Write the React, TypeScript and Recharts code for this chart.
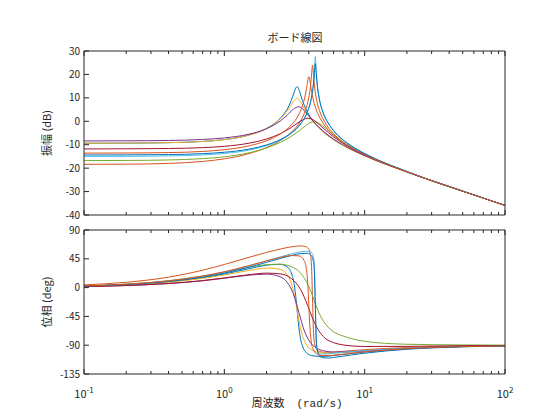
import { LineChart, Line, XAxis, YAxis } from "recharts";

const FONT = '"Noto Sans CJK JP", "Noto Sans", sans-serif';
const MONO = '"Liberation Mono", "DejaVu Sans Mono", monospace';
const INK = "#262626";

// tick positions
const decadeTicks = [0.1, 1, 10, 100];
const allXTicks = [0.1, 0.2, 0.3, 0.4, 0.5, 0.6, 0.7, 0.8, 0.9, 1, 2, 3, 4, 5, 6, 7, 8, 9, 10, 20, 30, 40, 50, 60, 70, 80, 90, 100];
const magTicks = [-40, -30, -20, -10, 0, 10, 20, 30];
const phaseTicks = [-135, -90, -45, 0, 45, 90];

// series 1 (blue)
const blueAW = [0.1, 0.2, 0.4, 0.7, 1, 1.5, 2, 2.5, 2.8, 3.0, 3.15, 3.25, 3.3, 3.35, 3.45, 3.6, 3.8, 4.2, 5, 6, 8, 10, 20, 50, 100];
const blueAMag = [-9.37, -9.32, -9.13, -8.61, -7.81, -5.87, -3.03, 1.23, 5.15, 8.91, 12.5, 14.48, 14.77, 14.41, 12.41, 8.97, 5.44, 0.9, -4.16, -7.79, -12.03, -14.71, -21.64, -29.85, -35.91];
const blueAPhase = [2.3, 4.6, 9.1, 15.5, 21.3, 29.5, 35.0, 36.4, 32.4, 22.9, 4.5, -19.6, -35, -50.2, -73.3, -90.9, -100.4, -106.3, -107.6, -106.1, -103.0, -100.7, -95.6, -92.2, -91.1];

// series 2 (orange)
const orangeAW = [0.1, 0.2, 0.4, 0.7, 1, 1.5, 2, 2.5, 3, 3.5, 3.8, 4.0, 4.1, 4.18, 4.25, 4.32, 4.4, 4.55, 4.8, 5.2, 6, 8, 10, 20, 50, 100];
const orangeAMag = [-18.35, -18.31, -17.98, -17.15, -16.03, -13.79, -11.22, -8.29, -4.72, 0.26, 4.97, 10.12, 14.34, 19.57, 23.98, 19.64, 14.55, 9.03, 4.05, -0.39, -5.22, -10.99, -14.11, -21.52, -29.84, -35.9];
const orangeAPhase = [4.2, 8.3, 16.3, 27.1, 36.1, 47.3, 55.0, 60.2, 63.7, 65.1, 64.0, 59.7, 52.5, 35.0, -17.7, -70.0, -87.3, -96.2, -99.9, -101.1, -100.7, -98.5, -97.0, -93.6, -91.4, -90.7];

// series 3 (yellow)
const yellowW = [0.1, 0.2, 0.4, 0.7, 1, 1.5, 2, 2.5, 2.8, 3.0, 3.15, 3.3, 3.45, 3.6, 3.8, 4.2, 5, 6, 8, 10, 20, 50, 100];
const yellowMag = [-9.37, -9.32, -9.13, -8.62, -7.82, -5.9, -3.13, 0.91, 4.33, 7.08, 9.0, 9.77, 8.81, 6.93, 4.39, 0.48, -4.3, -7.86, -12.05, -14.72, -21.65, -29.85, -35.91];
const yellowPhase = [2.1, 4.3, 8.5, 14.4, 19.7, 26.7, 30.5, 28.5, 20.3, 7.2, -10.4, -35.0, -58.7, -74.9, -87.1, -97.3, -102.2, -102.4, -100.6, -98.9, -94.7, -91.9, -91.0];

// series 4 (purple)
const purpleW = [0.1, 0.2, 0.4, 0.7, 1, 1.5, 2, 2.5, 2.8, 3.1, 3.4, 3.7, 4, 4.5, 5, 6, 8, 10, 20, 50, 100];
const purpleMag = [-8.38, -8.34, -8.18, -7.76, -7.1, -5.49, -3.16, 0.1, 2.58, 5.11, 6.22, 4.7, 2.25, -1.3, -3.93, -7.55, -11.86, -14.59, -21.62, -29.85, -35.91];
const purplePhase = [1.6, 3.2, 6.3, 10.6, 14.6, 19.4, 21.1, 16.9, 8.4, -9.6, -39.0, -66.4, -82.3, -93.9, -98.3, -100.7, -100.3, -98.9, -94.8, -92.0, -91.0];

// series 5 (green)
const greenW = [0.1, 0.2, 0.4, 0.7, 1, 1.5, 2, 2.5, 3, 3.5, 4, 4.3, 4.6, 5, 5.5, 6, 7, 8, 10, 20, 50, 100];
const greenMag = [-16.78, -16.72, -16.51, -15.94, -15.15, -13.44, -11.38, -9.05, -6.42, -3.54, -0.96, -0.23, -0.46, -1.82, -3.96, -5.89, -8.88, -11.07, -14.12, -21.52, -29.84, -35.9];
const greenPhase = [2.7, 5.5, 10.8, 18.1, 24.2, 31.8, 35.9, 36.5, 32.7, 22.5, 1.9, -15.5, -33.3, -50.0, -62.0, -69.0, -75.5, -79.5, -84.0, -88.5, -89.6, -89.9];

// series 6 (light blue)
const cyanW = [0.1, 0.2, 0.4, 0.7, 1, 1.5, 2, 2.5, 3, 3.5, 3.9, 4.15, 4.3, 4.38, 4.45, 4.52, 4.6, 4.75, 5, 5.5, 6, 8, 10, 20, 50, 100];
const cyanMag = [-14.99, -14.96, -14.79, -14.37, -13.74, -12.3, -10.43, -8.11, -5.18, -1.16, 3.84, 9.23, 15.15, 21.02, 27.66, 21.07, 15.31, 9.57, 4.49, -0.86, -4.0, -10.45, -13.79, -21.45, -29.82, -35.9];
const cyanPhase = [2.6, 5.2, 10.2, 17.5, 24.2, 33.9, 41.8, 47.9, 52.6, 55.9, 57.0, 55.3, 49.3, 35.7, -26.3, -87.9, -99.0, -103.0, -104.0, -103.5, -102.5, -100.0, -98.5, -95.0, -92.0, -91.0];

// series 7 (dark red)
const redW = [0.1, 0.2, 0.4, 0.7, 1, 1.5, 2, 2.5, 3, 3.5, 3.9, 4.3, 4.7, 5.2, 6, 7, 8, 10, 20, 50, 100];
const redMag = [-11.79, -11.75, -11.62, -11.25, -10.68, -9.35, -7.56, -5.32, -2.64, 0.11, 1.29, 0.6, -1.19, -3.54, -6.59, -9.34, -11.37, -14.29, -21.55, -29.84, -35.9];
const redPhase = [1.6, 3.3, 6.5, 11.0, 15.1, 20.2, 22.6, 21.4, 14.3, -3.2, -26.4, -50.3, -67.0, -78.6, -86.0, -89.5, -91.0, -92.0, -91.8, -90.8, -90.4];

// series 8 (blue again)
const blueBW = [0.1, 0.2, 0.4, 0.7, 1, 1.5, 2, 2.5, 3, 3.5, 3.9, 4.15, 4.3, 4.38, 4.45, 4.52, 4.6, 4.75, 5, 5.5, 6, 8, 10, 20, 50, 100];
const blueBMag = [-14.38, -14.35, -14.2, -13.81, -13.22, -11.88, -10.08, -7.83, -4.96, -0.98, 3.98, 9.3, 15.03, 20.23, 24.58, 20.25, 15.16, 9.61, 4.57, -0.77, -3.93, -10.41, -13.76, -21.44, -29.82, -35.9];
const blueBPhase = [2.4, 4.8, 9.5, 16.3, 22.6, 31.9, 39.5, 45.5, 50.1, 53.2, 53.6, 50.6, 41.9, 24.6, -27.9, -80.0, -97.3, -106.0, -109.4, -110.0, -109.2, -105.3, -102.5, -96.4, -92.6, -91.3];

// series 9 (orange again)
const orangeBW = [0.1, 0.2, 0.4, 0.7, 1, 1.5, 2, 2.5, 3, 3.4, 3.7, 3.85, 3.93, 4.0, 4.07, 4.15, 4.3, 4.6, 5, 6, 8, 10, 20, 50, 100];
const orangeBMag = [-13.59, -13.54, -13.36, -12.87, -12.14, -10.48, -8.28, -5.45, -1.59, 3.05, 8.94, 13.91, 17.32, 19.01, 17.3, 14.0, 9.25, 3.76, -0.38, -5.9, -11.2, -14.22, -21.54, -29.84, -35.9];
const orangeBPhase = [2.7, 5.3, 10.5, 18.0, 24.8, 34.4, 41.8, 47.1, 50.1, 49.6, 42.5, 28.0, 6.9, -27.6, -61.6, -82.2, -96.6, -104.2, -106.3, -105.7, -102.7, -100.4, -95.4, -92.2, -91.1];

const build = (w: number[], m: number[], p: number[]) => w.map((x, i) => ({ w: x, m: m[i], p: p[i] }));

const series = [
  { id: "s1", color: "#0072BD", data: build(blueAW, blueAMag, blueAPhase) },
  { id: "s2", color: "#D95319", data: build(orangeAW, orangeAMag, orangeAPhase) },
  { id: "s3", color: "#EDB120", data: build(yellowW, yellowMag, yellowPhase) },
  { id: "s4", color: "#7E2F8E", data: build(purpleW, purpleMag, purplePhase) },
  { id: "s5", color: "#77AC30", data: build(greenW, greenMag, greenPhase) },
  { id: "s6", color: "#4DBEEE", data: build(cyanW, cyanMag, cyanPhase) },
  { id: "s7", color: "#A2142F", data: build(redW, redMag, redPhase) },
  { id: "s8", color: "#0072BD", data: build(blueBW, blueBMag, blueBPhase) },
  { id: "s9", color: "#D95319", data: build(orangeBW, orangeBMag, orangeBPhase) },
];

const tickStyle = { fill: INK, fontSize: 10, fontFamily: FONT };

const isDecade = (v: number) => decadeTicks.some((d) => Math.abs(d - v) < 1e-9);

// log-axis tick: draws its own inward mark (long for decades, short otherwise) and an optional 10^n label
function LogTick(props: any) {
  const { x, y, payload, side, showLabel } = props;
  const major = isDecade(payload.value);
  const len = major ? 5 : 3;
  const dir = side === "top" ? 1 : -1;
  const exp = Math.round(Math.log10(payload.value));
  return (
    <g>
      <line x1={x} x2={x} y1={y} y2={y + dir * len} stroke={INK} strokeWidth={1} />
      {showLabel && major && (
        <text x={x} y={y + 24} textAnchor="middle" fill={INK} fontSize={11} fontFamily={FONT}>
          <tspan>10</tspan>
          <tspan dy={-5} fontSize={8}>{exp}</tspan>
        </text>
      )}
    </g>
  );
}

function Panel({ top, height, marginTop, bottomH, field, domain, ticks, labels }: any) {
  const xCommon = {
    dataKey: "w",
    type: "number" as const,
    scale: "log" as const,
    domain: [0.1, 100],
    allowDataOverflow: true,
    stroke: INK,
    ticks: allXTicks,
    interval: 0 as const,
    tickSize: 0,
    tickMargin: 0,
    tickLine: false,
  };
  return (
    <div style={{ position: "absolute", left: 0, top }}>
      <LineChart width={560} height={height} margin={{ top: marginTop, right: 54, bottom: 0, left: 24 }}>
        <XAxis xAxisId="top" orientation="top" height={1} {...xCommon} tick={<LogTick side="top" showLabel={false} />} />
        <XAxis xAxisId="main" height={bottomH} {...xCommon} tick={<LogTick side="bottom" showLabel={labels} />} />
        <YAxis
          yAxisId="left"
          type="number"
          domain={domain}
          allowDataOverflow
          ticks={ticks}
          interval={0}
          width={60}
          tickSize={-5}
          tickMargin={9}
          stroke={INK}
          tick={tickStyle}
        />
        <YAxis
          yAxisId="right"
          orientation="right"
          type="number"
          domain={domain}
          allowDataOverflow
          ticks={ticks}
          interval={0}
          width={1}
          tickSize={-5}
          tick={false}
          stroke={INK}
        />
        {series.map((s) => (
          <Line
            key={s.id}
            data={s.data}
            dataKey={field}
            xAxisId="main"
            yAxisId="left"
            type="monotone"
            stroke={s.color}
            strokeWidth={1}
            dot={false}
            activeDot={false}
            isAnimationActive={false}
          />
        ))}
      </LineChart>
    </div>
  );
}

const textBase = { position: "absolute" as const, color: INK, fontFamily: FONT, whiteSpace: "nowrap" as const, lineHeight: 1 };

export default function App() {
  return (
    <div style={{ position: "absolute", left: 0, top: 0, width: 560, height: 420, background: "#fff" }}>
      <Panel top={0} height={230} marginTop={50} bottomH={15} field="m" domain={[-40, 30]} ticks={magTicks} labels={false} />
      <Panel top={215} height={205} marginTop={14} bottomH={46} field="p" domain={[-135, 90]} ticks={phaseTicks} labels={true} />
      <div style={{ ...textBase, left: 295, top: 37, fontSize: 11, transform: "translate(-50%, -50%)" }}>ボード線図</div>
      <div style={{ ...textBase, left: 46, top: 133, fontSize: 11, transform: "translate(-50%, -50%) rotate(-90deg)" }}>振幅 (dB)</div>
      <div style={{ ...textBase, left: 46, top: 302, fontSize: 11, transform: "translate(-50%, -50%) rotate(-90deg)" }}>位相 (deg)</div>
      <div style={{ ...textBase, left: 297, top: 403, fontSize: 11, transform: "translate(-50%, -50%)" }}>
        周波数<span style={{ fontFamily: MONO, marginLeft: 12 }}>(rad/s)</span>
      </div>
    </div>
  );
}
